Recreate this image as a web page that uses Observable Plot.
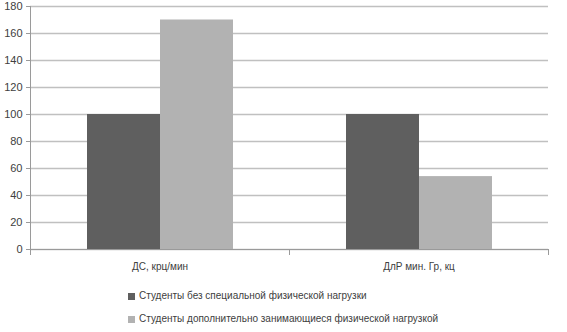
<!DOCTYPE html>
<html>
<head>
<meta charset="utf-8">
<script src="https://cdn.jsdelivr.net/npm/d3@7"></script>
<script src="https://cdn.jsdelivr.net/npm/@observablehq/plot@0.6"></script>
<style>
  body { margin: 0; background: #fff; font-family: "Liberation Sans", Arial, sans-serif; }
  #legend { margin-top: 4px; padding-left: 128px; font-size: 10px; color: #404040; }
  .row { height: 23px; line-height: 23px; white-space: nowrap; }
  .sw { display: inline-block; width: 7px; height: 7px; margin-right: 4px; vertical-align: -0.5px; }
</style>
</head>
<body>
<div id="chart"></div>
<div id="legend"></div>
<script>
const categories = ["ДС, крц/мин", "ДлР мин. Гр, кц"];
const series = ["Студенты без специальной физической нагрузки", "Студенты дополнительно занимающиеся физической нагрузкой"];
const valuesNoLoad = [100, 100];
const valuesWithLoad = [170, 54];
const yTicks = [0, 20, 40, 60, 80, 100, 120, 140, 160, 180];
const colors = ["#5f5f5f", "#b2b2b2"];

const data = categories.flatMap((c, i) => [
  {category: c, series: series[0], value: valuesNoLoad[i]},
  {category: c, series: series[1], value: valuesWithLoad[i]}
]);

const H = 280, MT = 6, MB = 31;
const innerH = H - MT - MB;
const axisColor = "#9a9a9a";

const chart = Plot.plot({
  width: 567,
  height: H,
  marginTop: MT,
  marginBottom: MB,
  marginLeft: 30,
  marginRight: 19,
  style: {fontFamily: "Liberation Sans, Arial, sans-serif", color: "#404040", background: "#fff"},
  fx: {domain: categories, padding: 0, label: null, tickSize: 0, tickPadding: 13, fontSize: 10},
  x: {domain: series, axis: null, paddingInner: 0, paddingOuter: 0.76},
  y: {domain: [0, 180], label: null},
  color: {domain: series, range: colors},
  marks: [
    Plot.gridY(yTicks, {stroke: "#c0c0c0", strokeOpacity: 1, strokeWidth: 1.3}),
    Plot.barY(data, {fx: "category", x: "series", y: "value", fill: "series"}),
    Plot.ruleY([0], {stroke: axisColor}),
    Plot.frame({anchor: "left", stroke: axisColor, facetAnchor: "left"}),
    Plot.frame({anchor: "left", stroke: axisColor, insetTop: innerH, insetBottom: -5}),
    Plot.frame({anchor: "right", stroke: axisColor, insetTop: innerH, insetBottom: -5, facetAnchor: "right"}),
    Plot.axisY(yTicks, {anchor: "left", tickSize: 4, tickPadding: 4, stroke: axisColor, fill: "#404040", fontSize: 11, label: null})
  ]
});
document.getElementById("chart").append(chart);

const legend = document.getElementById("legend");
series.forEach((s, i) => {
  const row = document.createElement("div");
  row.className = "row";
  const sw = document.createElement("span");
  sw.className = "sw";
  sw.style.background = colors[i];
  row.append(sw, document.createTextNode(s));
  legend.append(row);
});
</script>
</body>
</html>
